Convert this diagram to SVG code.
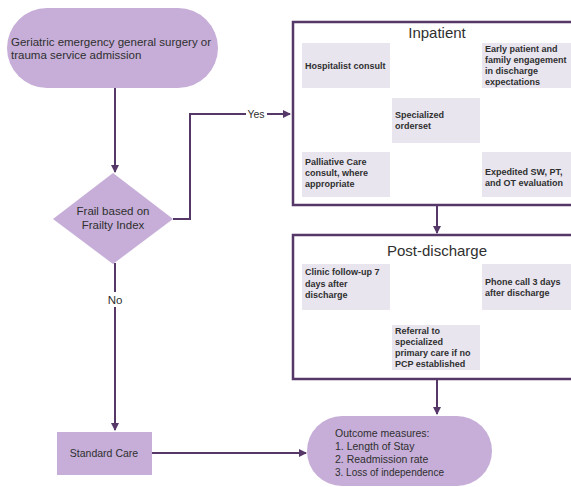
<svg xmlns="http://www.w3.org/2000/svg" width="571" height="487" viewBox="0 0 571 487">
<style>
.shape{fill:#c6aed8;}
.inner{fill:#e9e5ef;}
.frame{fill:#fff;stroke:#563868;stroke-width:2.5;}
.conn{fill:none;stroke:#563868;stroke-width:2;}
text{font-family:"Liberation Sans",Arial,sans-serif;fill:#2f2f2f;}
.reg{font-size:11.5px;}
.b{font-size:9px;font-weight:bold;}
.title{font-size:15px;text-anchor:middle;}
.mid{text-anchor:middle;}
</style>
<defs>
<marker id="ah" markerWidth="8" markerHeight="8" refX="7" refY="4" orient="auto" markerUnits="userSpaceOnUse">
<path d="M0,0 L8,4 L0,8 z" fill="#563868"/>
</marker>
</defs>
<rect width="571" height="487" fill="#fff"/>
<g id="connectors">
<line class="conn" x1="115" y1="88" x2="115" y2="172" marker-end="url(#ah)"/>
<polyline class="conn" points="173,219 190,219 190,114 290,114" marker-end="url(#ah)"/>
<rect x="246" y="107" width="21" height="12" fill="#fff"/>
<text x="256" y="117.5" class="mid" font-size="10.5">Yes</text>
<line class="conn" x1="115" y1="263" x2="115" y2="430" marker-end="url(#ah)"/>
<rect x="104" y="292" width="22" height="15" fill="#fff"/>
<text x="115" y="304" class="mid" font-size="11.5">No</text>
<line class="conn" x1="437" y1="205" x2="437" y2="233" marker-end="url(#ah)"/>
<line class="conn" x1="437" y1="379" x2="437" y2="414" marker-end="url(#ah)"/>
<line class="conn" x1="152" y1="453" x2="306" y2="453" marker-end="url(#ah)"/>
</g>
<g id="admission">
<rect class="shape" x="7" y="8" width="211" height="80" rx="40"/>
<text class="reg" x="11" y="46">Geriatric emergency general surgery or</text>
<text class="reg" x="11" y="59">trauma service admission</text>
</g>
<g id="frail">
<polygon class="shape" points="113,173 173,219 113,264 53,219"/>
<text class="reg mid" x="113" y="215">Frail based on</text>
<text class="reg mid" x="113" y="229">Frailty Index</text>
</g>
<g id="inpatient">
<rect class="frame" x="293" y="22" width="290" height="183"/>
<text class="title" x="437" y="38">Inpatient</text>
<g id="hospitalist">
<rect class="inner" x="302" y="43" width="88" height="45"/>
<text class="b" x="305" y="69">Hospitalist consult</text>
</g>
<g id="early">
<rect class="inner" x="482" y="43" width="89" height="45"/>
<text class="b" x="485" y="52">Early patient and</text>
<text class="b" x="485" y="63">family engagement</text>
<text class="b" x="485" y="74">in discharge</text>
<text class="b" x="485" y="85">expectations</text>
</g>
<g id="orderset">
<rect class="inner" x="392" y="98" width="88" height="45"/>
<text class="b" x="395" y="118">Specialized</text>
<text class="b" x="395" y="129">orderset</text>
</g>
<g id="palliative">
<rect class="inner" x="302" y="152" width="88" height="45"/>
<text class="b" x="305" y="165">Palliative Care</text>
<text class="b" x="305" y="176">consult, where</text>
<text class="b" x="305" y="187">appropriate</text>
</g>
<g id="expedited">
<rect class="inner" x="482" y="152" width="89" height="45"/>
<text class="b" x="485" y="175">Expedited SW, PT,</text>
<text class="b" x="485" y="186">and OT evaluation</text>
</g>
</g>
<g id="postdischarge">
<rect class="frame" x="293" y="235" width="290" height="144"/>
<text class="title" x="437" y="256">Post-discharge</text>
<g id="clinic">
<rect class="inner" x="302" y="264" width="88" height="46"/>
<text class="b" x="305" y="275">Clinic follow-up 7</text>
<text class="b" x="305" y="287">days after</text>
<text class="b" x="305" y="298">discharge</text>
</g>
<g id="phone">
<rect class="inner" x="482" y="264" width="89" height="46"/>
<text class="b" x="485" y="285">Phone call 3 days</text>
<text class="b" x="485" y="296">after discharge</text>
</g>
<g id="referral">
<rect class="inner" x="392" y="325" width="88" height="45"/>
<text class="b" x="395" y="334">Referral to</text>
<text class="b" x="395" y="345">specialized</text>
<text class="b" x="395" y="356">primary care if no</text>
<text class="b" x="395" y="367">PCP established</text>
</g>
</g>
<g id="standard">
<rect class="shape" x="57" y="432" width="95" height="43"/>
<text class="mid" x="104" y="457" font-size="10.5">Standard Care</text>
</g>
<g id="outcome">
<rect class="shape" x="307" y="416" width="185" height="70" rx="35"/>
<text x="335" y="437" font-size="10.5">Outcome measures:</text>
<text x="335" y="450" font-size="10.5">1. Length of Stay</text>
<text x="335" y="463" font-size="10.5">2. Readmission rate</text>
<text x="335" y="476" font-size="10">3. Loss of independence</text>
</g>
</svg>
